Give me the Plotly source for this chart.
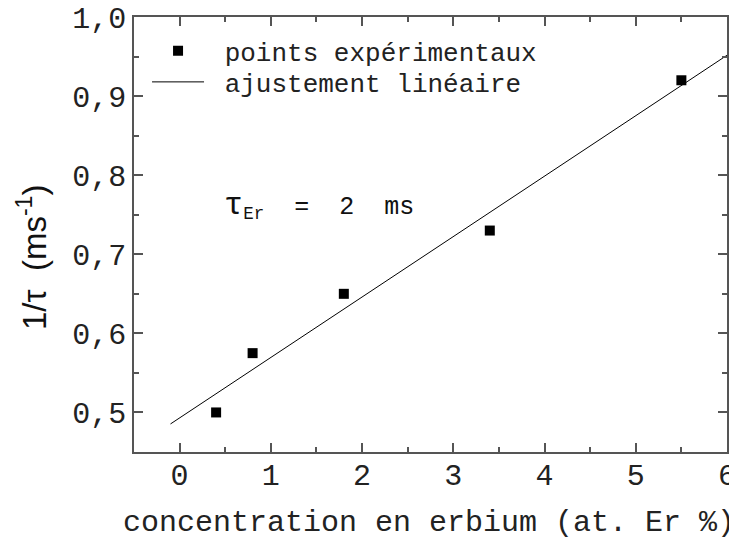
import numpy as np
import plotly.graph_objects as go

# Data
conc = [0.4, 0.8, 1.8, 3.4, 5.5]          # at. Er %
inv_tau = [0.50, 0.575, 0.65, 0.73, 0.92]  # ms^-1
fit_x = [-0.1, 6.0]                         # extent of fitted line

slope, intercept = np.polyfit(conc, inv_tau, 1)
fit_y = [intercept + slope * x for x in fit_x]

mono = "Liberation Mono, Courier New, monospace"
NB = "\u00a0"

fig = go.Figure()
fig.add_trace(go.Scatter(
    x=conc, y=inv_tau, mode="markers", name=NB + "points expérimentaux",
    marker=dict(symbol="square", size=10, color="black"), legend="legend",
))
fig.add_trace(go.Scatter(
    x=fit_x, y=fit_y, mode="lines", name=NB + "ajustement linéaire",
    line=dict(color="black", width=1), legend="legend2",
))

axis_common = dict(
    showline=True, linecolor="#555", linewidth=1.5, mirror="allticks",
    ticks="inside", ticklen=9, tickwidth=1.5, tickcolor="#555",
    showgrid=False, zeroline=False, automargin=False,
    ticklabeloverflow="allow",
    tickfont=dict(family=mono, size=30, color="#222"),
)

leg_common = dict(
    xanchor="left", yanchor="middle",
    font=dict(family=mono, size=26, color="#222"),
    bgcolor="rgba(0,0,0,0)", itemwidth=52, tracegroupgap=0,
)

# page body has an 8px margin: figure is drawn from (8, 8)
fig.update_layout(
    width=729, height=530,
    margin=dict(l=126, r=10, t=9, b=86),
    paper_bgcolor="white", plot_bgcolor="white",
    separators=",.",
    showlegend=True,
    legend=dict(x=0.022, y=0.922, **leg_common),
    legend2=dict(x=0.022, y=0.8506, **leg_common),
    xaxis=dict(
        range=[-0.5, 6], dtick=1, tick0=0, ticklabelstandoff=-5,
        minor=dict(ticks="inside", ticklen=5, dtick=0.5, tickcolor="#555", tickwidth=1.5),
        **axis_common,
    ),
    yaxis=dict(
        range=[0.45, 1.0], dtick=0.1, tick0=0.5, tickformat=".1f",
        minor=dict(ticks="inside", ticklen=5, dtick=0.05, tickcolor="#555", tickwidth=1.5),
        **axis_common,
    ),
    annotations=[
        dict(
            x=0.46, y=0.762, xref="x", yref="y", xanchor="left", yanchor="middle",
            showarrow=False,
            text="<span style='font-size:32px'>τ</span><sub>Er</sub>" + NB * 2 + "=" + NB * 2 + "2" + NB * 2 + "ms",
            font=dict(family=mono, size=25, color="#111"),
        ),
        dict(
            x=0.497, y=-0.163, xref="paper", yref="paper", xanchor="center", yanchor="middle",
            showarrow=False, text="concentration en erbium (at. Er %)",
            font=dict(family=mono, size=30, color="#222"),
        ),
        dict(
            x=-0.172, y=0.446, xref="paper", yref="paper", xanchor="center", yanchor="middle",
            showarrow=False, textangle=-90, text="1/τ" + NB * 2 + "(ms<sup>-1</sup>)",
            font=dict(family="Liberation Sans, Arial, sans-serif", size=33, color="#111"),
        ),
    ],
)

fig.write_html("out.html")
